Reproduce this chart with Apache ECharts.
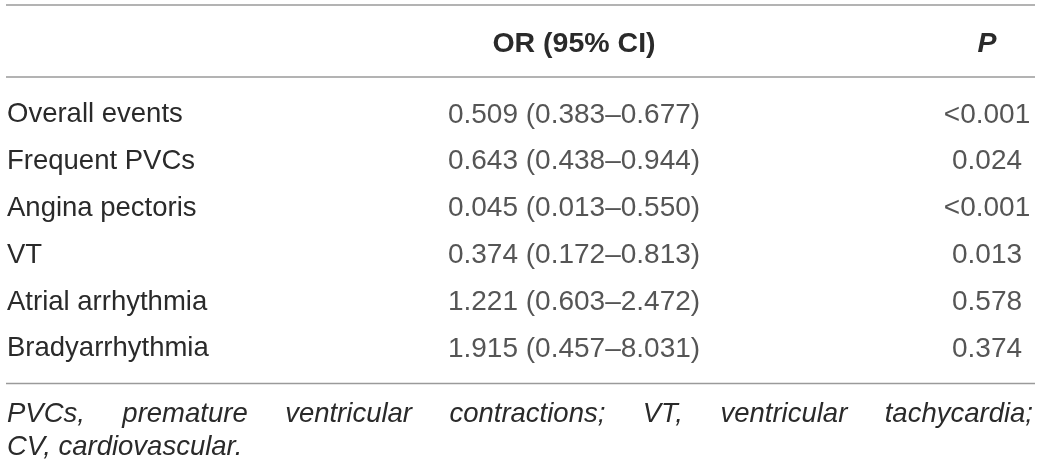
<!DOCTYPE html>
<html>
<head>
<meta charset="utf-8">
<script src="https://cdn.jsdelivr.net/npm/echarts@6/dist/echarts.min.js"></script>
<style>html,body{margin:0;padding:0;background:#fff}#c{width:1040px;height:468px}</style>
</head>
<body>
<div id="c"></div>
<script>
// ---- data ----
const columnHeaders = ['', 'OR (95% CI)', 'P'];
const outcomes = ['Overall events', 'Frequent PVCs', 'Angina pectoris', 'VT', 'Atrial arrhythmia', 'Bradyarrhythmia'];
const orValues = [0.509, 0.643, 0.045, 0.374, 1.221, 1.915];
const ciLower = [0.383, 0.438, 0.013, 0.172, 0.603, 0.457];
const ciUpper = [0.677, 0.944, 0.550, 0.813, 2.472, 8.031];
const pValues = ['<0.001', '0.024', '<0.001', '0.013', '0.578', '0.374'];
const footnoteLine1 = ['PVCs,', 'premature', 'ventricular', 'contractions;', 'VT,', 'ventricular', 'tachycardia;'];
const footnoteLine2 = 'CV, cardiovascular.';

// ---- style / layout ----
const FONT = '"Liberation Sans", Arial, Helvetica, sans-serif';
const FS_LABEL = 27.5;
const FS_VAL = 28;
const FS_HEAD = 28.5;
const FS_FOOT = 27.5;
const TEXT = '#2a2a2a';
const RULE = '#9a9a9a';

const chart = echarts.init(document.getElementById('c'), null, {renderer: 'canvas'});

// measure words for justified footnote
const ctx = document.createElement('canvas').getContext('2d');
const footFont = 'italic ' + FS_FOOT + 'px ' + FONT;
ctx.font = footFont;
const leftX = 7, rightX = 1033;
const widths = footnoteLine1.map(w => ctx.measureText(w).width);
const total = widths.reduce((a, b) => a + b, 0);
const gap = (rightX - leftX - total) / (footnoteLine1.length - 1);
const footGraphics = [];
let cx = leftX;
footnoteLine1.forEach((w, i) => {
  footGraphics.push({type: 'text', x: cx, y: 414, silent: true,
    style: {text: w, font: footFont, fill: TEXT, align: 'left', verticalAlign: 'middle'}});
  cx += widths[i] + gap;
});
footGraphics.push({type: 'text', x: leftX, y: 447, silent: true,
  style: {text: footnoteLine2, font: footFont, fill: TEXT, align: 'left', verticalAlign: 'middle'}});

function rule(y) {
  return {type: 'line', silent: true, shape: {x1: 6, y1: y, x2: 1035, y2: y},
    style: {stroke: RULE, lineWidth: 1.4}};
}

const fmt = v => v.toFixed(3);

const option = {
  animation: false,
  backgroundColor: '#fff',
  grid: {left: 161, right: 53, top: 91.4, height: 280.8},
  xAxis: {
    type: 'category', position: 'top', data: columnHeaders, boundaryGap: false,
    axisLine: {show: false}, axisTick: {show: false}, splitLine: {show: false},
    axisLabel: {
      interval: 0, margin: 47.2, verticalAlign: 'middle',
      fontFamily: FONT, fontSize: FS_HEAD, fontWeight: 'bold', color: TEXT,
      formatter: v => v === 'P' ? '{i|P}' : v,
      rich: {i: {fontStyle: 'italic', fontWeight: 'bold', fontSize: FS_HEAD, fontFamily: FONT, color: TEXT}}
    }
  },
  yAxis: {
    type: 'category', data: outcomes, inverse: true,
    axisLine: {show: false}, axisTick: {show: false}, splitLine: {show: false},
    axisLabel: {interval: 0, align: 'left', margin: 154, fontFamily: FONT, fontSize: FS_LABEL, color: TEXT}
  },
  series: [
    {
      name: 'OR (95% CI)', type: 'scatter', symbolSize: 0, silent: true,
      data: outcomes.map((o, i) => ({value: [columnHeaders[1], o],
        label: {formatter: fmt(orValues[i]) + ' (' + fmt(ciLower[i]) + '\u2013' + fmt(ciUpper[i]) + ')'}})),
      label: {show: true, position: 'inside', fontFamily: FONT, fontSize: FS_VAL, color: TEXT}
    },
    {
      name: 'P', type: 'scatter', symbolSize: 0, silent: true,
      data: outcomes.map((o, i) => ({value: [columnHeaders[2], o], label: {formatter: pValues[i]}})),
      label: {show: true, position: 'inside', fontFamily: FONT, fontSize: FS_VAL, color: TEXT}
    }
  ],
  graphic: [rule(5), rule(77), rule(383.5)].concat(footGraphics)
};
chart.setOption(option);
</script>
</body>
</html>
